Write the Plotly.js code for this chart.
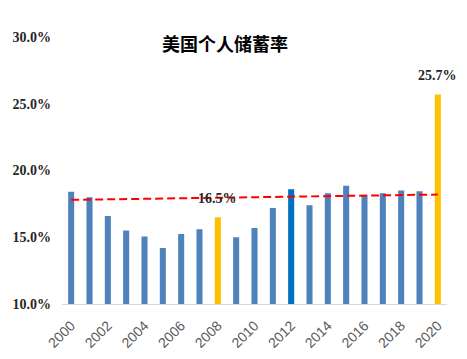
<!DOCTYPE html>
<html>
<head>
<meta charset="utf-8">
<script src="https://cdn.plot.ly/plotly-3.0.1.min.js"></script>
<style>html,body{margin:0;padding:0;background:#fff;}#chart{width:467px;height:359px;}</style>
</head>
<body>
<div id="chart"></div>
<script>
const years = ["2000","2001","2002","2003","2004","2005","2006","2007","2008","2009","2010","2011","2012","2013","2014","2015","2016","2017","2018","2019","2020"];
const savingRate = [18.4,18.0,16.6,15.5,15.05,14.2,15.25,15.6,16.5,15.0,15.7,17.2,18.6,17.4,18.3,18.85,18.15,18.3,18.5,18.45,25.7];
const trendYears = ["2000","2020"];
const trendValues = [17.8,18.2];
const labelYears = ["2008","2020"];
const labelValues = [16.5,25.7];
const tickYears = ["2000","2002","2004","2006","2008","2010","2012","2014","2016","2018","2020"];
const yTicks = [10,15,20,25,30];

const blue = "#4F81BD", darkBlue = "#0070C0", gold = "#FFC000";
const colors = years.map(y => (y==="2008"||y==="2020") ? gold : (y==="2012" ? darkBlue : blue));

const traces = [
  {type:"bar", x:years, y:savingRate, marker:{color:colors}, hoverinfo:"none"},
  {type:"scatter", mode:"lines", x:trendYears, y:trendValues, line:{color:"#FF0000", width:2, dash:"8px,4px"}, hoverinfo:"none"}
];

const annotations = labelYears.map((y,i)=>({
  x:years.indexOf(y), y:labelValues[i], xref:"x", yref:"y", text:"<b>"+labelValues[i].toFixed(1)+"%</b>",
  showarrow:false, yanchor:"bottom", yshift:9,
  font:{family:"Liberation Serif", size:14, color:"#262626"}
}));

const layout = {
  width:467, height:359,
  margin:{l:62, r:20, t:37, b:55},
  paper_bgcolor:"#fff", plot_bgcolor:"#fff",
  showlegend:false,
  bargap:0.67,
  title:{text:"<b>美国个人储蓄率</b>", x:225/467, xref:"container", xanchor:"center", y:1-45/359, yref:"container", yanchor:"middle",
    font:{family:"Noto Sans CJK SC", size:18, color:"#000"}},
  xaxis:{type:"category", categoryorder:"array", categoryarray:years, range:[-0.5,20.5],
    tickmode:"array", tickvals:tickYears, ticktext:tickYears, tickangle:-45,
    tickfont:{family:"Liberation Sans", size:14, color:"#595959"},
    ticks:"outside", ticklen:7, tickcolor:"rgba(0,0,0,0)",
    showgrid:false, showline:true, linecolor:"#D9D9D9", linewidth:1, zeroline:false},
  yaxis:{range:[10,30], tickmode:"array", tickvals:yTicks, ticktext:yTicks.map(v=>"<b>"+v.toFixed(1)+"%</b>"),
    tickfont:{family:"Liberation Serif", size:14, color:"#262626"},
    showgrid:false, showline:false, zeroline:false, ticks:"", ticklabelstandoff:10},
  annotations:annotations
};

Plotly.newPlot("chart", traces, layout, {displayModeBar:false, staticPlot:true});
</script>
</body>
</html>
